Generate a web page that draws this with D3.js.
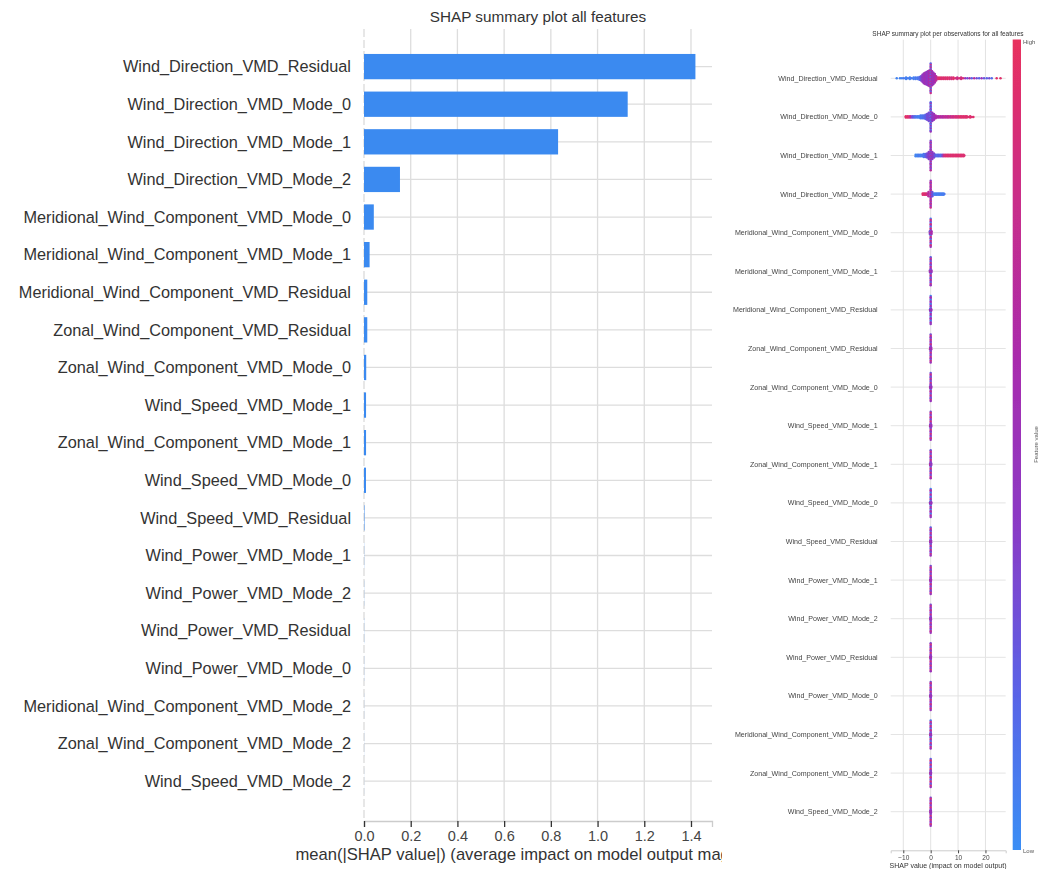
<!DOCTYPE html>
<html>
<head>
<meta charset="utf-8">
<script src="https://cdn.jsdelivr.net/npm/d3@7/dist/d3.min.js"></script>
<style>
  html, body { margin: 0; padding: 0; background: #fff; }
  svg { display: block; font-family: "Liberation Sans", Arial, Helvetica, sans-serif; }
</style>
</head>
<body>
<svg id="chart" width="1047" height="869"></svg>
<script>
// Feature names, ordered by mean |SHAP| (top to bottom)
const features = [
  "Wind_Direction_VMD_Residual",
  "Wind_Direction_VMD_Mode_0",
  "Wind_Direction_VMD_Mode_1",
  "Wind_Direction_VMD_Mode_2",
  "Meridional_Wind_Component_VMD_Mode_0",
  "Meridional_Wind_Component_VMD_Mode_1",
  "Meridional_Wind_Component_VMD_Residual",
  "Zonal_Wind_Component_VMD_Residual",
  "Zonal_Wind_Component_VMD_Mode_0",
  "Wind_Speed_VMD_Mode_1",
  "Zonal_Wind_Component_VMD_Mode_1",
  "Wind_Speed_VMD_Mode_0",
  "Wind_Speed_VMD_Residual",
  "Wind_Power_VMD_Mode_1",
  "Wind_Power_VMD_Mode_2",
  "Wind_Power_VMD_Residual",
  "Wind_Power_VMD_Mode_0",
  "Meridional_Wind_Component_VMD_Mode_2",
  "Zonal_Wind_Component_VMD_Mode_2",
  "Wind_Speed_VMD_Mode_2"
];

// mean(|SHAP value|) per feature
const meanAbsShap = [
  1.419, 1.129, 0.831, 0.154, 0.042, 0.024, 0.014, 0.014, 0.0095, 0.0088,
  0.0088, 0.0085, 0.002, 0.0006, 0.0005, 0.0005, 0.0004, 0.0003, 0.0003, 0.0002
];

const barTicks = [0, 0.2, 0.4, 0.6, 0.8, 1.0, 1.2, 1.4];
const swarmTicks = [-10, 0, 10, 20];

// Beeswarm bins per feature: [SHAP value, number of observations, normalised feature value]
const swarmWDResidual = [
  [-12.4,1,0.05],[-11.2,1,0.05],[-10.5,1,0.05],[-9.8,1,0.1],[-9.0,2,0.05],[-8.3,1,0.1],
  [-7.6,2,0.05],[-6.9,1,0.1],[-6.2,2,0.05],[-5.5,2,0.1],[-4.8,2,0.1],[-4.1,3,0.15],
  [-3.5,4,0.3],[-3.0,6,0.45],[-2.5,8,0.5],[-2.0,9,0.55],[-1.5,10,0.45],[-1.0,11,0.5],
  [-0.5,12,0.6],[0,11,0.2],[0,11,0.8],[0.5,11,0.55],[1.0,9,0.5],[1.5,7,0.6],[2.0,4,0.7],
  [2.7,2,0.9],[3.4,2,0.95],[4.1,2,0.9],[4.8,2,0.95],[5.5,2,0.9],[6.2,2,0.95],[6.9,2,0.9],
  [7.6,2,0.85],[8.3,2,0.95],[9.0,1,0.9],[9.7,2,0.8],[10.4,1,0.9],[11.1,2,0.85],[11.8,1,0.9],
  [12.6,1,0.5],[13.4,1,0.3],[14.2,1,0.6],[15.0,1,0.2],[15.9,1,0.7],[16.8,1,0.3],[17.7,1,0.2],
  [18.6,1,0.5],[19.5,1,0.25],[20.5,1,0.2],[21.4,1,0.3],[22.3,1,0.15],[24.1,1,0.95],[25.5,1,0.95]
];
const swarmWDMode0 = [
  [-9.1,2,0.95],[-8.5,2,0.95],[-7.9,2,0.9],[-7.3,2,0.7],[-6.7,2,0.3],[-6.1,2,0.2],[-5.5,2,0.1],
  [-4.9,2,0.1],[-4.3,2,0.05],[-3.7,3,0.1],[-3.1,3,0.1],[-2.5,3,0.15],[-1.9,4,0.2],[-1.3,5,0.3],
  [-0.7,7,0.3],[0,11,0.1],[0,11,0.5],[0.6,7,0.4],[1.2,5,0.5],[1.8,3,0.6],[2.4,2,0.65],[3.0,2,0.6],
  [3.6,2,0.7],[4.2,2,0.65],[4.8,2,0.7],[5.4,2,0.75],[6.0,2,0.7],[6.6,2,0.8],[7.2,2,0.75],
  [7.8,2,0.85],[8.4,2,0.8],[9.0,2,0.9],[9.6,2,0.85],[10.2,2,0.9],[10.8,2,0.95],[11.4,2,0.9],
  [12.0,2,0.95],[12.6,2,0.9],[13.2,2,0.95],[13.8,1,0.9],[14.4,2,0.95],[15.0,1,0.9],[15.6,1,0.95]
];
const swarmWDMode1 = [
  [-5.5,2,0.05],[-4.9,2,0.05],[-4.3,2,0.1],[-3.7,2,0.05],[-3.1,2,0.1],[-2.5,3,0.1],[-1.9,3,0.2],
  [-1.3,4,0.3],[-0.7,6,0.4],[0,11,0.3],[0,11,0.7],[0.6,6,0.45],[1.2,4,0.35],[1.8,2,0.2],
  [2.4,2,0.15],[3.0,2,0.2],[3.6,2,0.15],[4.2,2,0.3],[4.8,2,0.8],[5.4,2,0.9],[6.0,2,0.95],
  [6.6,2,0.9],[7.2,2,0.95],[7.8,2,0.9],[8.4,2,0.95],[9.0,2,0.9],[9.6,2,0.95],[10.2,2,0.9],
  [10.8,2,0.95],[11.4,2,0.9],[12.0,2,0.95],[12.3,1,0.9]
];
const swarmWDMode2 = [
  [-2.9,2,0.95],[-2.4,2,0.9],[-1.9,2,0.95],[-1.4,2,0.85],[-0.8,4,0.7],[0,10,0.4],[0,10,0.8],
  [0.6,4,0.3],[1.2,2,0.1],[1.7,2,0.05],[2.2,2,0.1],[2.7,2,0.05],[3.2,2,0.1],[3.7,2,0.05],
  [4.2,2,0.1],[4.7,2,0.05],[5.0,1,0.1]
];
const swarmMWCMode0   = [[-0.3,3,0.4],[0,7,0.1],[0,7,0.9],[0,7,0.5],[0.3,3,0.6]];
const swarmMWCMode1   = [[-0.3,2,0.5],[0,7,0.2],[0,7,0.8],[0,7,0.5],[0.3,2,0.5]];
const swarmMWCResid   = [[-0.2,2,0.5],[0,7,0.05],[0,7,0.6],[0,7,0.45],[0.2,2,0.5]];
const swarmZWCResid   = [[-0.2,2,0.5],[0,7,0.3],[0,7,0.85],[0,7,0.5],[0.2,2,0.55]];
const swarmZWCMode0   = [[-0.2,2,0.45],[0,7,0.25],[0,7,0.8],[0,7,0.5],[0.2,2,0.5]];
const swarmWSMode1    = [[-0.2,2,0.5],[0,7,0.3],[0,7,0.9],[0,7,0.5],[0.2,2,0.5]];
const swarmZWCMode1   = [[-0.2,2,0.5],[0,7,0.25],[0,7,0.85],[0,7,0.55],[0.2,2,0.45]];
const swarmWSMode0    = [[-0.2,2,0.5],[0,7,0.05],[0,7,0.7],[0,7,0.45],[0.2,2,0.5]];
const swarmWSResid    = [[-0.15,2,0.5],[0,7,0.2],[0,7,0.8],[0,7,0.5],[0.15,2,0.5]];
const swarmWPMode1    = [[-0.1,2,0.5],[0,7,0.3],[0,7,0.85],[0,7,0.5],[0.1,2,0.55]];
const swarmWPMode2    = [[-0.1,2,0.45],[0,7,0.3],[0,7,0.8],[0,7,0.5],[0.1,2,0.5]];
const swarmWPResid    = [[-0.1,2,0.5],[0,7,0.35],[0,7,0.9],[0,7,0.5],[0.1,2,0.5]];
const swarmWPMode0    = [[-0.1,2,0.5],[0,7,0.3],[0,7,0.85],[0,7,0.5],[0.1,2,0.5]];
const swarmMWCMode2   = [[-0.1,2,0.5],[0,7,0.1],[0,7,0.85],[0,7,0.5],[0.1,2,0.5]];
const swarmZWCMode2   = [[-0.1,2,0.5],[0,7,0.2],[0,7,0.95],[0,7,0.5],[0.1,2,0.5]];
const swarmWSMode2    = [[-0.1,2,0.5],[0,7,0.35],[0,7,0.9],[0,7,0.5],[0.1,2,0.5]];

const swarmRows = [
  swarmWDResidual, swarmWDMode0, swarmWDMode1, swarmWDMode2,
  swarmMWCMode0, swarmMWCMode1, swarmMWCResid, swarmZWCResid, swarmZWCMode0,
  swarmWSMode1, swarmZWCMode1, swarmWSMode0, swarmWSResid,
  swarmWPMode1, swarmWPMode2, swarmWPResid, swarmWPMode0,
  swarmMWCMode2, swarmZWCMode2, swarmWSMode2
];

// Low -> high feature value colour ramp
const rampStops = ["#3a8ef5", "#5b62e6", "#8a3ac6", "#a82cae", "#c92d8a", "#e8305e"];

const svg = d3.select("#chart");
const grid = "#dddddd";
const text = "#333333";

// ---------- Left: mean |SHAP| bar chart ----------
const x = d3.scaleLinear().domain([0, 1.49]).range([364, 712]);
const y = d3.scaleLinear().domain([-1, 20.06]).range([29, 821]);
const barH = 25.3;

const left = svg.append("g");

left.append("text")
  .attr("x", 538).attr("y", 22)
  .attr("text-anchor", "middle")
  .attr("font-size", 15.3).attr("fill", text)
  .text("SHAP summary plot all features");

// vertical grid
left.append("g").selectAll("line")
  .data(barTicks.filter(d => d > 0))
  .join("line")
  .attr("x1", d => x(d)).attr("x2", d => x(d))
  .attr("y1", y(-1)).attr("y2", y(20.06))
  .attr("stroke", grid).attr("stroke-width", 1.3);

// zero line
left.append("line")
  .attr("x1", x(0)).attr("x2", x(0))
  .attr("y1", y(-1)).attr("y2", y(20.06))
  .attr("stroke", "#d8d8d8").attr("stroke-width", 1.2)
  .attr("stroke-dasharray", "8,3");

// horizontal row lines
left.append("g").selectAll("line")
  .data(features)
  .join("line")
  .attr("x1", x(0)).attr("x2", 712)
  .attr("y1", (d, i) => y(i)).attr("y2", (d, i) => y(i))
  .attr("stroke", grid).attr("stroke-width", 1.3);

// bars
left.append("g").selectAll("rect")
  .data(meanAbsShap)
  .join("rect")
  .attr("x", x(0))
  .attr("y", (d, i) => y(i) - barH / 2)
  .attr("width", d => x(d) - x(0))
  .attr("height", barH)
  .attr("fill", "#3b8af0");

// feature labels
left.append("g").selectAll("text")
  .data(features)
  .join("text")
  .attr("x", 351).attr("y", (d, i) => y(i))
  .attr("dy", "0.35em")
  .attr("text-anchor", "end")
  .attr("font-size", 16.3).attr("fill", text)
  .text(d => d);

// x axis
const xAxis = left.append("g")
  .attr("transform", `translate(0,${y(20.06)})`)
  .call(d3.axisBottom(x).tickValues(barTicks).tickFormat(d3.format(".1f")).tickSize(6).tickPadding(4));
xAxis.select(".domain").attr("stroke", "#cccccc").attr("stroke-width", 1.3);
xAxis.selectAll(".tick line").attr("stroke", text).attr("stroke-width", 1.3);
xAxis.selectAll(".tick text").attr("font-size", 14.5).attr("fill", "#444")
  .attr("font-family", "Liberation Sans, Arial, sans-serif");

// x label, cut where the right panel begins
svg.append("defs").append("clipPath").attr("id", "leftClip")
  .append("rect").attr("x", 0).attr("y", 0).attr("width", 722).attr("height", 869);
left.append("text")
  .attr("clip-path", "url(#leftClip)")
  .attr("x", 538).attr("y", 860)
  .attr("text-anchor", "middle")
  .attr("font-size", 16.6).attr("fill", text)
  .text("mean(|SHAP value|) (average impact on model output magnitude)");

// ---------- Right: beeswarm summary ----------
const defs = svg.select("defs");
defs.append("filter").attr("id", "soft")
  .append("feGaussianBlur").attr("stdDeviation", 0.35);

const grad = defs.append("linearGradient").attr("id", "fvRamp")
  .attr("x1", 0).attr("y1", 1).attr("x2", 0).attr("y2", 0);
grad.selectAll("stop").data(rampStops).join("stop")
  .attr("offset", (d, i) => i / (rampStops.length - 1))
  .attr("stop-color", d => d);

const color = d3.scaleLinear()
  .domain(rampStops.map((d, i) => i / (rampStops.length - 1)))
  .range(rampStops)
  .interpolate(d3.interpolateRgb);

const xr = d3.scaleLinear().domain([-14.6, 27.4]).range([890.7, 1005.7]);
const yr = d3.scaleLinear().domain([-1, 20]).range([39.7, 850.3]);

const right = svg.append("g").attr("filter", "url(#soft)");

right.append("text")
  .attr("x", 948).attr("y", 36)
  .attr("text-anchor", "middle")
  .attr("font-size", 6.5).attr("fill", text)
  .text("SHAP summary plot per observations for all features");

right.append("g").selectAll("line")
  .data(swarmTicks)
  .join("line")
  .attr("x1", d => xr(d)).attr("x2", d => xr(d))
  .attr("y1", yr(-1)).attr("y2", yr(20))
  .attr("stroke", "#e2e2e2").attr("stroke-width", 1);

right.append("g").selectAll("line")
  .data(features)
  .join("line")
  .attr("x1", xr.range()[0]).attr("x2", xr.range()[1])
  .attr("y1", (d, i) => yr(i)).attr("y2", (d, i) => yr(i))
  .attr("stroke", "#e4e4e4").attr("stroke-width", 1);

right.append("g").selectAll("text")
  .data(features)
  .join("text")
  .attr("x", 877.7).attr("y", (d, i) => yr(i))
  .attr("dy", "0.35em")
  .attr("text-anchor", "end")
  .attr("font-size", 7.1).attr("fill", "#444")
  .text(d => d);

// stack observations that share a SHAP bin vertically, interleaving their colours
const dotGap = 1.4;
const dots = [];
swarmRows.forEach((bins, row) => {
  const groups = d3.group(bins, b => b[0]);
  groups.forEach((entries, v) => {
    const col = [];
    const maxN = d3.max(entries, e => e[1]);
    for (let k = 0; k < maxN; k++) {
      entries.forEach(e => { if (k < e[1]) col.push(e[2]); });
    }
    const n = col.length;
    col.forEach((fv, j) => {
      dots.push({ v: +v, row, off: (j - (n - 1) / 2) * dotGap, fv });
    });
  });
});

right.append("g").selectAll("circle")
  .data(dots)
  .join("circle")
  .attr("cx", d => xr(d.v))
  .attr("cy", d => yr(d.row) + d.off)
  .attr("r", 1.25)
  .attr("fill", d => color(d.fv));

// SHAP axis
const xrAxis = right.append("g")
  .attr("transform", `translate(0,${yr(20)})`)
  .call(d3.axisBottom(xr).tickValues(swarmTicks).tickFormat(d3.format("d")).tickSize(3).tickPadding(2));
xrAxis.select(".domain").attr("stroke", "#cccccc");
xrAxis.selectAll(".tick line").attr("stroke", "#444");
xrAxis.selectAll(".tick text").attr("font-size", 6.5).attr("fill", "#444")
  .attr("font-family", "Liberation Sans, Arial, sans-serif");

right.append("text")
  .attr("x", 948).attr("y", 868)
  .attr("text-anchor", "middle")
  .attr("font-size", 7).attr("fill", text)
  .text("SHAP value (impact on model output)");

// colour bar
right.append("rect")
  .attr("x", 1012.7).attr("y", 39.5)
  .attr("width", 8.3).attr("height", 810.5)
  .attr("fill", "url(#fvRamp)");
right.append("text").attr("x", 1023).attr("y", 44)
  .attr("font-size", 6).attr("fill", "#555").text("High");
right.append("text").attr("x", 1023).attr("y", 853)
  .attr("font-size", 6).attr("fill", "#555").text("Low");
right.append("text")
  .attr("transform", "translate(1038,444.5) rotate(-90)")
  .attr("text-anchor", "middle")
  .attr("font-size", 6).attr("fill", "#555")
  .text("Feature value");
</script>
</body>
</html>
